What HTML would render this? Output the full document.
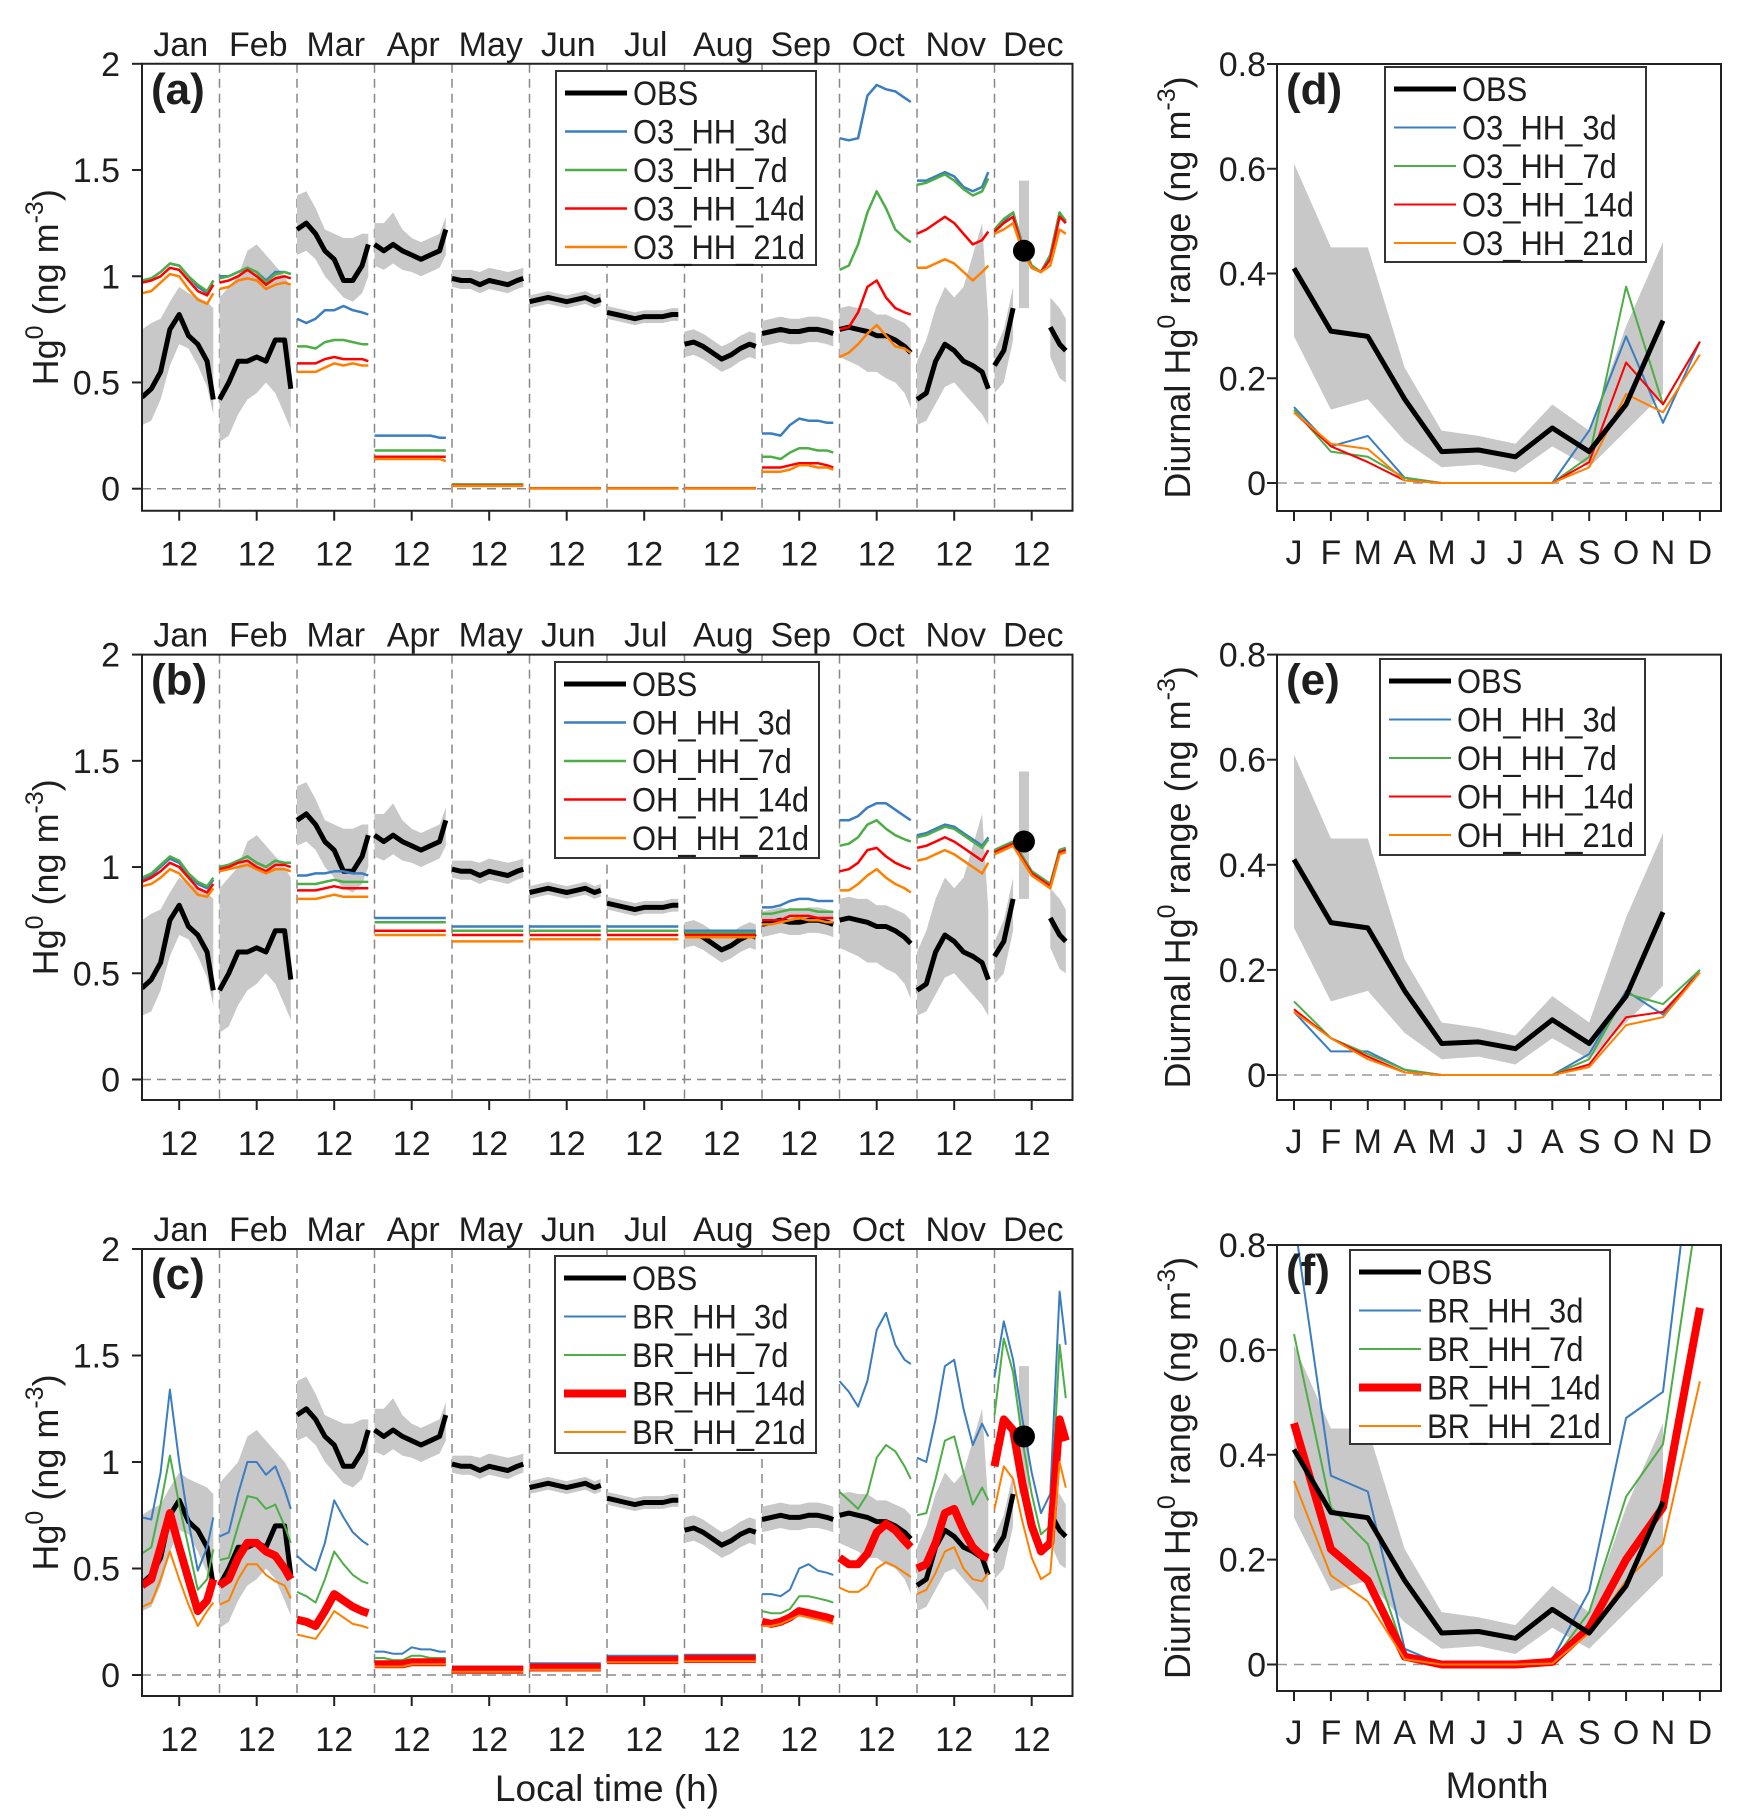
<!DOCTYPE html>
<html><head><meta charset="utf-8"><style>
html,body{margin:0;padding:0;background:#fff}
svg{display:block;font-family:"Liberation Sans",Arial,sans-serif}
</style></head><body>
<svg id="fig" xmlns="http://www.w3.org/2000/svg" width="1753" height="1820" viewBox="0 0 1753 1820"></svg>
<script>
// ---------- DATA ----------
const monthNames = ["Jan","Feb","Mar","Apr","May","Jun","Jul","Aug","Sep","Oct","Nov","Dec"];
const monthLetters = ["J","F","M","A","M","J","J","A","S","O","N","D"];
const hours = [0,3,6,9,12,15,18,21,23];
const leftTicks = [0,0.5,1,1.5,2];
const leftTickLabels = ["0","0.5","1","1.5","2"];
const rightTicks = [0,0.2,0.4,0.6,0.8];
const rightTickLabels = ["0","0.2","0.4","0.6","0.8"];

const obs = [
[0.43,0.47,0.55,0.75,0.82,0.72,0.68,0.60,0.42],
[0.42,0.50,0.60,0.60,0.62,0.60,0.70,0.70,0.47],
[1.22,1.25,1.20,1.12,1.08,0.98,0.98,1.05,1.15],
[1.15,1.12,1.15,1.12,1.10,1.08,1.10,1.12,1.22],
[0.99,0.98,0.98,0.96,0.98,0.97,0.96,0.98,0.99],
[0.88,0.89,0.90,0.89,0.88,0.89,0.90,0.88,0.89],
[0.83,0.82,0.81,0.80,0.81,0.81,0.81,0.82,0.82],
[0.68,0.69,0.67,0.64,0.61,0.63,0.66,0.68,0.67],
[0.73,0.74,0.75,0.74,0.74,0.75,0.75,0.74,0.73],
[0.75,0.76,0.75,0.74,0.72,0.72,0.70,0.67,0.64],
[0.42,0.45,0.60,0.68,0.65,0.60,0.58,0.55,0.47],
[0.58,0.65,0.85,null,null,null,0.76,0.68,0.65]];
const obsLo = [
[0.30,0.32,0.42,0.58,0.68,0.66,0.58,0.48,0.35],
[0.22,0.25,0.35,0.42,0.45,0.50,0.45,0.35,0.28],
[1.10,1.12,1.08,1.00,0.95,0.90,0.88,0.92,1.00],
[1.05,1.03,1.06,1.03,1.02,1.00,1.02,1.04,1.10],
[0.95,0.94,0.94,0.92,0.94,0.93,0.92,0.94,0.95],
[0.85,0.86,0.87,0.86,0.85,0.86,0.87,0.85,0.86],
[0.80,0.79,0.78,0.77,0.78,0.78,0.78,0.79,0.79],
[0.62,0.63,0.61,0.58,0.55,0.57,0.60,0.62,0.61],
[0.67,0.68,0.69,0.68,0.68,0.69,0.69,0.68,0.67],
[0.62,0.60,0.58,0.55,0.55,0.52,0.50,0.45,0.38],
[0.30,0.32,0.40,0.48,0.50,0.45,0.40,0.35,0.30],
[0.45,0.50,0.70,null,null,null,0.62,0.52,0.50]];
const obsHi = [
[0.75,0.78,0.80,0.88,0.95,0.92,0.90,0.88,0.85],
[0.90,0.95,1.00,1.12,1.15,1.10,1.05,1.00,0.95],
[1.38,1.40,1.32,1.22,1.20,1.18,1.18,1.20,1.20],
[1.25,1.25,1.30,1.22,1.18,1.16,1.18,1.20,1.28],
[1.03,1.03,1.03,1.02,1.04,1.03,1.02,1.03,1.04],
[0.91,0.92,0.93,0.92,0.91,0.92,0.93,0.91,0.92],
[0.86,0.85,0.84,0.83,0.84,0.84,0.84,0.85,0.85],
[0.74,0.75,0.73,0.70,0.67,0.69,0.72,0.74,0.73],
[0.79,0.80,0.81,0.80,0.80,0.81,0.81,0.80,0.79],
[0.85,0.86,0.85,0.85,0.82,0.82,0.80,0.78,0.75],
[0.60,0.70,0.85,0.95,0.90,0.95,1.10,1.25,0.80],
[0.65,0.75,0.95,null,null,null,0.90,0.85,0.80]];
const decDot = {hour:9.5, value:1.12, lo:0.85, hi:1.45};

// Panel (a) O3_HH
const o3_3d = [
[0.98,0.99,1.02,1.06,1.05,1.00,0.95,0.92,0.98],[1.00,1.00,1.02,1.04,1.02,0.98,1.02,1.02,1.01],
[0.80,0.78,0.80,0.84,0.84,0.86,0.84,0.83,0.82],[0.25,0.25,0.25,0.25,0.25,0.25,0.25,0.24,0.24],
[0.02,0.02,0.02,0.02,0.02,0.02,0.02,0.02,0.02],[0.002,0.002,0.002,0.002,0.002,0.002,0.002,0.002,0.002],
[0.002,0.002,0.002,0.002,0.002,0.002,0.002,0.002,0.002],[0.002,0.002,0.002,0.002,0.002,0.002,0.002,0.002,0.002],
[0.26,0.26,0.25,0.30,0.33,0.32,0.32,0.31,0.31],[1.65,1.64,1.65,1.85,1.90,1.88,1.87,1.84,1.82],
[1.45,1.45,1.47,1.49,1.47,1.42,1.40,1.42,1.49],[1.22,1.26,1.30,1.15,1.05,1.02,1.10,1.30,1.25]];
const o3_7d = [
[0.98,0.99,1.02,1.06,1.05,1.00,0.96,0.93,0.98],[0.99,1.00,1.02,1.04,1.02,0.97,1.01,1.02,1.01],
[0.67,0.67,0.66,0.69,0.70,0.70,0.69,0.68,0.68],[0.18,0.18,0.18,0.18,0.18,0.18,0.18,0.18,0.18],
[0.02,0.02,0.02,0.02,0.02,0.02,0.02,0.02,0.02],[0.002,0.002,0.002,0.002,0.002,0.002,0.002,0.002,0.002],
[0.002,0.002,0.002,0.002,0.002,0.002,0.002,0.002,0.002],[0.002,0.002,0.002,0.002,0.002,0.002,0.002,0.002,0.002],
[0.15,0.15,0.14,0.17,0.19,0.19,0.18,0.18,0.17],[1.03,1.05,1.15,1.30,1.40,1.32,1.22,1.18,1.16],
[1.43,1.44,1.46,1.48,1.45,1.41,1.38,1.40,1.46],[1.22,1.27,1.30,1.14,1.05,1.02,1.10,1.30,1.26]];
const o3_14d = [
[0.97,0.98,1.00,1.04,1.03,0.98,0.93,0.91,0.96],[0.97,0.98,1.00,1.03,1.00,0.96,0.99,1.00,0.99],
[0.59,0.59,0.59,0.61,0.62,0.61,0.61,0.61,0.60],[0.15,0.15,0.15,0.15,0.15,0.15,0.15,0.15,0.15],
[0.015,0.015,0.015,0.015,0.015,0.015,0.015,0.015,0.015],[0.002,0.002,0.002,0.002,0.002,0.002,0.002,0.002,0.002],
[0.002,0.002,0.002,0.002,0.002,0.002,0.002,0.002,0.002],[0.002,0.002,0.002,0.002,0.002,0.002,0.002,0.002,0.002],
[0.10,0.10,0.10,0.11,0.12,0.12,0.12,0.11,0.10],[0.75,0.76,0.83,0.95,0.98,0.90,0.85,0.83,0.82],
[1.20,1.22,1.25,1.28,1.25,1.20,1.15,1.17,1.21],[1.21,1.25,1.28,1.13,1.04,1.02,1.08,1.28,1.25]];
const o3_21d = [
[0.92,0.93,0.97,1.01,1.00,0.94,0.89,0.87,0.92],[0.94,0.95,0.98,0.99,0.98,0.94,0.96,0.97,0.96],
[0.55,0.55,0.55,0.57,0.59,0.58,0.59,0.58,0.58],[0.14,0.14,0.14,0.14,0.14,0.14,0.14,0.14,0.13],
[0.013,0.013,0.013,0.013,0.013,0.013,0.013,0.013,0.013],[0.001,0.001,0.001,0.001,0.001,0.001,0.001,0.001,0.001],
[0.001,0.001,0.001,0.001,0.001,0.001,0.001,0.001,0.001],[0.001,0.001,0.001,0.001,0.001,0.001,0.001,0.001,0.001],
[0.08,0.08,0.08,0.09,0.11,0.11,0.10,0.10,0.09],[0.62,0.64,0.68,0.73,0.77,0.72,0.67,0.66,0.64],
[1.04,1.04,1.06,1.08,1.06,1.02,0.98,1.02,1.05],[1.20,1.22,1.25,1.12,1.04,1.02,1.05,1.22,1.20]];

// Panel (b) OH_HH
const oh_3d = [
[0.94,0.96,1.00,1.04,1.02,0.96,0.92,0.90,0.94],[1.00,1.01,1.03,1.05,1.02,1.00,1.03,1.02,1.02],
[0.96,0.96,0.97,0.97,0.98,0.98,0.97,0.97,0.96],[0.76,0.76,0.76,0.76,0.76,0.76,0.76,0.76,0.76],
[0.72,0.72,0.72,0.72,0.72,0.72,0.72,0.72,0.72],[0.72,0.72,0.72,0.72,0.72,0.72,0.72,0.72,0.72],
[0.72,0.72,0.72,0.72,0.72,0.72,0.72,0.72,0.72],[0.70,0.70,0.70,0.70,0.70,0.70,0.70,0.70,0.70],
[0.81,0.81,0.82,0.84,0.85,0.85,0.84,0.84,0.84],[1.22,1.22,1.24,1.28,1.30,1.30,1.27,1.24,1.22],
[1.15,1.16,1.18,1.20,1.19,1.16,1.13,1.10,1.14],[1.08,1.10,1.12,1.05,0.98,0.95,0.92,1.08,1.09]];
const oh_7d = [
[0.95,0.97,1.01,1.05,1.03,0.97,0.93,0.91,0.95],[1.00,1.01,1.03,1.05,1.02,1.00,1.03,1.02,1.02],
[0.92,0.92,0.92,0.93,0.94,0.93,0.93,0.93,0.93],[0.74,0.74,0.74,0.74,0.74,0.74,0.74,0.74,0.74],
[0.70,0.70,0.70,0.70,0.70,0.70,0.70,0.70,0.70],[0.70,0.70,0.70,0.70,0.70,0.70,0.70,0.70,0.70],
[0.70,0.70,0.70,0.70,0.70,0.70,0.70,0.70,0.70],[0.69,0.69,0.69,0.69,0.69,0.69,0.69,0.69,0.69],
[0.78,0.78,0.79,0.80,0.80,0.80,0.79,0.79,0.79],[1.10,1.11,1.14,1.20,1.22,1.18,1.15,1.13,1.12],
[1.14,1.15,1.17,1.19,1.18,1.15,1.12,1.09,1.13],[1.08,1.10,1.12,1.05,0.98,0.95,0.92,1.08,1.09]];
const oh_14d = [
[0.93,0.95,0.98,1.02,1.00,0.95,0.90,0.88,0.92],[0.99,1.00,1.02,1.03,1.00,0.98,1.01,1.01,1.00],
[0.89,0.89,0.89,0.90,0.91,0.90,0.90,0.90,0.90],[0.70,0.70,0.70,0.70,0.70,0.70,0.70,0.70,0.70],
[0.68,0.68,0.68,0.68,0.68,0.68,0.68,0.68,0.68],[0.68,0.68,0.68,0.68,0.68,0.68,0.68,0.68,0.68],
[0.68,0.68,0.68,0.68,0.68,0.68,0.68,0.68,0.68],[0.68,0.68,0.68,0.68,0.68,0.68,0.68,0.68,0.68],
[0.75,0.75,0.75,0.77,0.77,0.77,0.76,0.76,0.76],[0.98,0.99,1.02,1.08,1.09,1.05,1.02,1.00,0.99],
[1.09,1.10,1.12,1.14,1.12,1.09,1.06,1.03,1.08],[1.07,1.09,1.11,1.04,0.97,0.94,0.91,1.07,1.08]];
const oh_21d = [
[0.91,0.92,0.95,0.99,0.97,0.92,0.87,0.86,0.90],[0.98,0.99,1.00,1.01,0.99,0.97,0.99,0.99,0.98],
[0.85,0.85,0.85,0.86,0.87,0.86,0.86,0.86,0.86],[0.68,0.68,0.68,0.68,0.68,0.68,0.68,0.68,0.68],
[0.65,0.65,0.65,0.65,0.65,0.65,0.65,0.65,0.65],[0.66,0.66,0.66,0.66,0.66,0.66,0.66,0.66,0.66],
[0.66,0.66,0.66,0.66,0.66,0.66,0.66,0.66,0.66],[0.67,0.67,0.67,0.67,0.67,0.67,0.67,0.67,0.67],
[0.73,0.73,0.74,0.75,0.76,0.75,0.75,0.74,0.74],[0.89,0.89,0.92,0.96,0.99,0.95,0.92,0.90,0.88],
[1.03,1.04,1.06,1.08,1.06,1.03,1.00,0.97,1.02],[1.06,1.08,1.10,1.03,0.96,0.93,0.90,1.06,1.07]];

// Panel (c) BR_HH
const br_3d = [
[0.74,0.73,0.95,1.34,1.00,0.72,0.49,0.60,0.74],[0.65,0.67,0.85,1.00,1.00,0.94,0.98,0.87,0.78],
[0.56,0.52,0.49,0.62,0.82,0.74,0.67,0.63,0.61],[0.11,0.11,0.10,0.10,0.13,0.12,0.12,0.11,0.11],
[0.04,0.04,0.04,0.04,0.04,0.04,0.04,0.04,0.04],[0.055,0.055,0.055,0.055,0.055,0.055,0.055,0.055,0.055],
[0.09,0.09,0.09,0.09,0.09,0.09,0.09,0.09,0.09],[0.095,0.095,0.095,0.095,0.095,0.095,0.095,0.095,0.095],
[0.38,0.38,0.37,0.40,0.50,0.52,0.49,0.48,0.47],[1.38,1.33,1.26,1.38,1.62,1.70,1.55,1.48,1.46],
[1.02,1.00,1.20,1.45,1.48,1.25,1.08,1.18,1.12],[1.40,1.66,1.48,1.20,0.95,0.76,0.85,1.80,1.55]];
const br_7d = [
[0.57,0.60,0.80,1.03,0.80,0.60,0.40,0.45,0.59],[0.54,0.55,0.70,0.84,0.83,0.78,0.80,0.70,0.62],
[0.39,0.37,0.34,0.45,0.58,0.52,0.47,0.44,0.43],[0.08,0.08,0.07,0.07,0.09,0.09,0.08,0.08,0.08],
[0.03,0.03,0.03,0.03,0.03,0.03,0.03,0.03,0.03],[0.045,0.045,0.045,0.045,0.045,0.045,0.045,0.045,0.045],
[0.08,0.08,0.08,0.08,0.08,0.08,0.08,0.08,0.08],[0.085,0.085,0.085,0.085,0.085,0.085,0.085,0.085,0.085],
[0.30,0.29,0.29,0.31,0.37,0.37,0.36,0.35,0.34],[0.86,0.82,0.78,0.85,1.02,1.08,1.05,0.98,0.92],
[0.75,0.76,0.92,1.10,1.12,0.95,0.80,0.88,0.82],[1.22,1.58,1.42,1.10,0.85,0.66,0.70,1.55,1.30]];
const br_14d = [
[0.42,0.45,0.60,0.76,0.60,0.45,0.30,0.35,0.45],[0.42,0.45,0.55,0.62,0.62,0.58,0.56,0.50,0.45],
[0.26,0.25,0.23,0.30,0.38,0.35,0.32,0.30,0.29],[0.05,0.05,0.05,0.05,0.06,0.06,0.06,0.06,0.06],
[0.025,0.025,0.025,0.025,0.025,0.025,0.025,0.025,0.025],[0.035,0.035,0.035,0.035,0.035,0.035,0.035,0.035,0.035],
[0.07,0.07,0.07,0.07,0.07,0.07,0.07,0.07,0.07],[0.075,0.075,0.075,0.075,0.075,0.075,0.075,0.075,0.075],
[0.25,0.24,0.25,0.27,0.30,0.29,0.28,0.27,0.26],[0.55,0.52,0.52,0.57,0.67,0.71,0.68,0.63,0.60],
[0.50,0.52,0.62,0.76,0.78,0.68,0.60,0.56,0.55],[0.98,1.20,1.15,0.90,0.70,0.58,0.62,1.20,1.10]];
const br_21d = [
[0.32,0.34,0.45,0.58,0.45,0.33,0.23,0.30,0.34],[0.33,0.35,0.45,0.52,0.52,0.47,0.44,0.42,0.36],
[0.19,0.18,0.17,0.23,0.30,0.27,0.24,0.23,0.22],[0.04,0.04,0.04,0.04,0.05,0.05,0.05,0.05,0.05],
[0.015,0.015,0.015,0.015,0.015,0.015,0.015,0.015,0.015],[0.025,0.025,0.025,0.025,0.025,0.025,0.025,0.025,0.025],
[0.06,0.06,0.06,0.06,0.06,0.06,0.06,0.06,0.06],[0.065,0.065,0.065,0.065,0.065,0.065,0.065,0.065,0.065],
[0.23,0.23,0.24,0.26,0.28,0.27,0.26,0.25,0.24],[0.41,0.39,0.39,0.42,0.50,0.53,0.51,0.48,0.46],
[0.38,0.40,0.48,0.58,0.60,0.50,0.45,0.44,0.48],[0.78,0.98,0.92,0.72,0.55,0.45,0.48,1.00,0.88]];

// Right panels: diurnal range by month
const rngObs = [0.41,0.29,0.28,0.16,0.06,0.063,0.05,0.105,0.06,0.15,0.31];
const rngObsHi = [0.61,0.45,0.45,0.22,0.10,0.09,0.075,0.15,0.10,0.30,0.46];
const rngObsLo = [0.28,0.14,0.16,0.08,0.03,0.035,0.02,0.07,0.03,0.10,0.17];
const rngO3_3d = [0.145,0.07,0.09,0.01,0,0,0,0,0.10,0.28,0.115,0.27];
const rngO3_7d = [0.14,0.06,0.05,0.01,0,0,0,0,0.05,0.375,0.15,0.27];
const rngO3_14d = [0.135,0.07,0.04,0.005,0,0,0,0,0.04,0.23,0.15,0.27];
const rngO3_21d = [0.135,0.075,0.065,0.005,0,0,0,0,0.03,0.17,0.135,0.245];
const rngOH_3d = [0.12,0.045,0.045,0.01,0,0,0,0,0.04,0.16,0.115,0.20];
const rngOH_7d = [0.14,0.07,0.04,0.01,0,0,0,0,0.03,0.155,0.135,0.20];
const rngOH_14d = [0.125,0.07,0.035,0.005,0,0,0,0,0.02,0.11,0.12,0.195];
const rngOH_21d = [0.12,0.07,0.03,0.005,0,0,0,0,0.015,0.095,0.11,0.195];
const rngBR_3d = [0.85,0.36,0.33,0.03,0,0,0,0.01,0.14,0.47,0.52,1.10];
const rngBR_7d = [0.63,0.30,0.23,0.02,0,0,0,0.005,0.10,0.32,0.42,0.90];
const rngBR_14d = [0.46,0.22,0.16,0.015,0,0,0,0.005,0.07,0.20,0.30,0.68];
const rngBR_21d = [0.35,0.17,0.12,0.01,0,0,0,0.002,0.06,0.16,0.23,0.54];

// ---------- DRAWING ----------
const NS = "http://www.w3.org/2000/svg";
const svg = document.getElementById("fig");
const COL = {blue:"#3a7dc0", green:"#4cae45", red:"#ff0000", orange:"#ff8000", band:"#c8c8c8", ink:"#1e1e1e"};
function mk(tag, attrs, parent){
  const e = document.createElementNS(NS, tag);
  for (const k in attrs) e.setAttribute(k, attrs[k]);
  (parent||svg).appendChild(e);
  return e;
}
function txt(s, x, y, size, anchor, parent, weight){
  const t = mk("text", {x:x, y:y, "font-size":size, "text-anchor":anchor||"middle", fill:COL.ink}, parent);
  if (weight) t.setAttribute("font-weight", weight);
  t.textContent = s;
  return t;
}
const L = {x0:142, x1:1072.5, mw:77.5, hw:3.1};
function LX(m, h){ return L.x0 + m*L.mw + h*L.hw; }

function leftPanel(id, y2, y0, yb, series, names, widths, leg, label){
  const g = mk("g", {});
  
  
  const k = (y0 - y2)/2;
  const Y = v => y0 - v*k;
  const cp = mk("clipPath", {id:"clip"+id}, g);
  mk("rect", {x:L.x0, y:y2, width:L.x1-L.x0, height:yb-y2}, cp);
  for (let m=1; m<12; m++){
    const l = mk("line", {x1:L.x0+m*L.mw, x2:L.x0+m*L.mw, y1:y2, y2:yb, stroke:"#888", "stroke-width":1.5, "stroke-dasharray":"9,6"}, g);
    
    
  }
  const zl = mk("line", {x1:L.x0, x2:L.x1, y1:Y(0), y2:Y(0), stroke:"#888", "stroke-width":1.5, "stroke-dasharray":"9,6"}, g);
  
  
  const dg = mk("g", {"clip-path":"url(#clip"+id+")"}, g);
  for (let m=0; m<12; m++){
    let run = [];
    const flush = () => {
      if (run.length > 1){
        let pts = run.map(i => LX(m,hours[i])+","+Y(obsHi[m][i]));
        pts = pts.concat(run.slice().reverse().map(i => LX(m,hours[i])+","+Y(obsLo[m][i])));
        const p = mk("polygon", {points:pts.join(" "), fill:COL.band}, dg);
        
        
      }
      run = [];
    };
    for (let i=0; i<hours.length; i++){ if (obsHi[m][i]===null) flush(); else run.push(i); }
    flush();
  }
  const db = mk("rect", {x:LX(11,decDot.hour)-5, y:Y(decDot.hi), width:10, height:Y(decDot.lo)-Y(decDot.hi), fill:COL.band}, dg);
  
  
  const allSeries = [obs].concat(series);
  const cols = ["#000", COL.blue, COL.green, COL.red, COL.orange];
  const wd = [5].concat(widths);
  allSeries.forEach((s, si) => {
    for (let m=0; m<12; m++){
      let segs = [], cur = [];
      for (let i=0; i<hours.length; i++){
        if (s[m][i]===null){ if (cur.length) segs.push(cur); cur=[]; }
        else cur.push(LX(m,hours[i]).toFixed(1)+","+Y(s[m][i]).toFixed(1));
      }
      if (cur.length) segs.push(cur);
      segs.forEach(sg => {
        const pl = mk("polyline", {points:sg.join(" "), fill:"none", stroke:cols[si], "stroke-width":wd[si], "stroke-linejoin":"round", "stroke-linecap":"butt"}, dg);
        
        
      });
    }
  });
  const dot = mk("circle", {cx:LX(11,decDot.hour), cy:Y(decDot.value), r:11, fill:"#000"}, g);
  
  
  const fr = mk("path", {d:`M${L.x0},${y2} H${L.x1} V${yb} H${L.x0} Z`, fill:"none", stroke:"#222", "stroke-width":2}, g);
  
  
  leftTicks.forEach((v, i) => {
    mk("line", {x1:L.x0-10, x2:L.x0, y1:Y(v), y2:Y(v), stroke:"#222", "stroke-width":2}, g);
    const t = txt(leftTickLabels[i], 120, Y(v)+12, 34, "end", g);
    
    
  });
  for (let m=0; m<12; m++){
    mk("line", {x1:LX(m,12), x2:LX(m,12), y1:yb, y2:yb+10, stroke:"#222", "stroke-width":2}, g);
    const t = txt("12", LX(m,12), yb+55, 34, "middle", g);
    
    
    const ml = txt(monthNames[m], L.x0 + m*L.mw + L.mw/2, y2-8, 34, "middle", g);
    
    
  }
  const yt = mk("text", {x:0, y:0, "font-size":36, "text-anchor":"middle", fill:COL.ink, transform:`translate(58,${(y2+yb)/2}) rotate(-90)`}, g);
  yt.innerHTML = 'Hg<tspan dy="-15" font-size="25">0</tspan><tspan dy="15"> (ng m</tspan><tspan dy="-15" font-size="25">-3</tspan><tspan dy="15">)</tspan>';
  
  
  const pl = txt(label, 151, y2+40, 44, "start", g, "bold");
  
  
  legend(g, leg, ["OBS"].concat(names), cols, wd);
}

function legend(g, leg, labels, cols, wd){
  const lg = mk("g", {}, g);
  
  
  mk("rect", {x:leg.x, y:leg.y, width:leg.w, height:leg.h, fill:"#fff", stroke:"#333", "stroke-width":2}, lg);
  labels.forEach((s, i) => {
    const yy = leg.y + 22 + i*38.5;
    const e = mk("line", {x1:leg.x+9, x2:leg.x+71, y1:yy, y2:yy, stroke:cols[i], "stroke-width":Math.max(wd[i],2)}, lg);
    
    
    const tx = leg.x+77;
    const t = txt(s, tx, yy+12, 34, "start", lg);
    t.setAttribute("transform", `translate(${tx},0) scale(0.91,1) translate(${-tx},0)`);
    
    
  });
}

const R = {x0:1277, x1:1721, j:1294, step:36.9};
function RX(i){ return R.j + i*R.step; }
function rightPanel(id, y8, y0, yb, series, names, widths, leg, label){
  const g = mk("g", {});
  
  
  const k = (y0 - y8)/0.8;
  const Y = v => y0 - v*k;
  const cp = mk("clipPath", {id:"clip"+id}, g);
  mk("rect", {x:R.x0, y:y8, width:R.x1-R.x0, height:yb-y8}, cp);
  const zl = mk("line", {x1:R.x0, x2:R.x1, y1:Y(0), y2:Y(0), stroke:"#999", "stroke-width":1.5, "stroke-dasharray":"10,7"}, g);
  
  
  const dg = mk("g", {"clip-path":"url(#clip"+id+")"}, g);
  let pts = rngObsHi.map((v,i)=>RX(i)+","+Y(v)).concat(rngObsLo.map((v,i)=>RX(i)+","+Y(v)).reverse());
  const band = mk("polygon", {points:pts.join(" "), fill:COL.band}, dg);
  
  
  const cols = ["#000", COL.blue, COL.green, COL.red, COL.orange];
  const wd = [5].concat(widths);
  const allS = [rngObs].concat(series);
  const order = [1,2,3,4,0];
  order.forEach(si => {
    const s = allS[si];
    const pl = mk("polyline", {points:s.map((v,i)=>RX(i).toFixed(1)+","+Y(v).toFixed(1)).join(" "), fill:"none", stroke:cols[si], "stroke-width":wd[si], "stroke-linejoin":"round"}, dg);
    
    
  });
  const fr = mk("path", {d:`M${R.x0},${y8} H${R.x1} V${yb} H${R.x0} Z`, fill:"none", stroke:"#222", "stroke-width":2}, g);
  
  
  rightTicks.forEach((v,i) => {
    mk("line", {x1:R.x0-10, x2:R.x0, y1:Y(v), y2:Y(v), stroke:"#222", "stroke-width":2}, g);
    const t = txt(rightTickLabels[i], 1266, Y(v)+12, 34, "end", g);
    
    
  });
  monthLetters.forEach((s,i) => {
    mk("line", {x1:RX(i), x2:RX(i), y1:yb, y2:yb+10, stroke:"#222", "stroke-width":2}, g);
    const t = txt(s, RX(i), yb+53, 34, "middle", g);
    
    
  });
  const yt = mk("text", {x:0, y:0, "font-size":36, "text-anchor":"middle", fill:COL.ink, transform:`translate(1190,${(y8+yb)/2}) rotate(-90)`}, g);
  yt.innerHTML = 'Diurnal Hg<tspan dy="-15" font-size="25">0</tspan><tspan dy="15"> range (ng m</tspan><tspan dy="-15" font-size="25">-3</tspan><tspan dy="15">)</tspan>';
  
  
  const pl = txt(label, 1286, y8+40, 44, "start", g, "bold");
  
  
  legend(g, leg, ["OBS"].concat(names), cols, wd);
}

leftPanel("a", 63.8, 488.7, 510.7, [o3_3d,o3_7d,o3_14d,o3_21d], ["O3_HH_3d","O3_HH_7d","O3_HH_14d","O3_HH_21d"], [2.5,2.5,2.5,2.5], {x:556,y:71,w:260,h:194}, "(a)");
leftPanel("b", 654.6, 1079.5, 1100, [oh_3d,oh_7d,oh_14d,oh_21d], ["OH_HH_3d","OH_HH_7d","OH_HH_14d","OH_HH_21d"], [2.5,2.5,2.5,2.5], {x:555,y:662,w:264,h:196}, "(b)");
leftPanel("c", 1249, 1675, 1696, [br_3d,br_7d,br_14d,br_21d], ["BR_HH_3d","BR_HH_7d","BR_HH_14d","BR_HH_21d"], [2,2,8,2], {x:555,y:1256,w:261,h:197}, "(c)");
rightPanel("d", 64, 483, 511, [rngO3_3d,rngO3_7d,rngO3_14d,rngO3_21d], ["O3_HH_3d","O3_HH_7d","O3_HH_14d","O3_HH_21d"], [2,2,2,2], {x:1385,y:67,w:261,h:195}, "(d)");
rightPanel("e", 654.6, 1075, 1100, [rngOH_3d,rngOH_7d,rngOH_14d,rngOH_21d], ["OH_HH_3d","OH_HH_7d","OH_HH_14d","OH_HH_21d"], [2,2,2,2], {x:1380,y:659,w:265,h:196}, "(e)");
rightPanel("f", 1245, 1664.5, 1691, [rngBR_3d,rngBR_7d,rngBR_14d,rngBR_21d], ["BR_HH_3d","BR_HH_7d","BR_HH_14d","BR_HH_21d"], [2,2,8,2], {x:1350,y:1250,w:260,h:194}, "(f)");

const xl = txt("Local time (h)", 607, 1801, 37, "middle");


const xr = txt("Month", 1497, 1798, 37, "middle");


</script>
</body></html>
